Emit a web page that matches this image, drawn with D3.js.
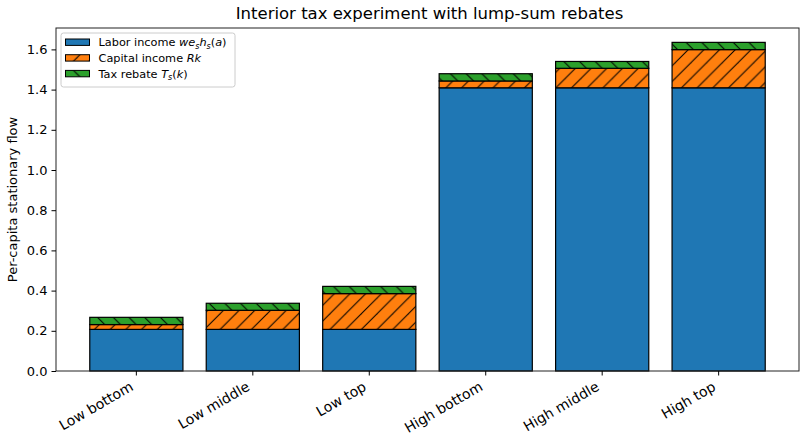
<!DOCTYPE html>
<html>
<head>
<meta charset="utf-8">
<script src="https://cdn.jsdelivr.net/npm/d3@7"></script>
<style>
body { margin: 0; background: #fff; }
text { font-family: "DejaVu Sans", sans-serif; }
</style>
</head>
<body>
<svg id="chart"></svg>
<script>
var width = 806, height = 437
var margin = {top: 28, right: 7, bottom: 66, left: 56}

var groups = ["Low bottom", "Low middle", "Low top", "High bottom", "High middle", "High top"]
var labor = [0.207, 0.207, 0.207, 1.409, 1.409, 1.409]
var capital = [0.024, 0.095, 0.178, 0.034, 0.097, 0.190]
var rebate = [0.036, 0.035, 0.036, 0.036, 0.034, 0.036]
var yTicks = [0.0, 0.2, 0.4, 0.6, 0.8, 1.0, 1.2, 1.4, 1.6]

var series = [
    {key: "labor", values: labor, fill: "#1f77b4", hatch: null},
    {key: "capital", values: capital, fill: "#ff7f0e", hatch: "fwd"},
    {key: "rebate", values: rebate, fill: "#2ca02c", hatch: "back"}
]

var svg = d3.select("#chart")
    .attr("width", width)
    .attr("height", height)

// hatch patterns
var defs = svg.append("defs")
var hs = 15.7
function addPattern(id, fill, dir) {
    var p = defs.append("pattern")
        .attr("id", id)
        .attr("patternUnits", "userSpaceOnUse")
        .attr("width", hs).attr("height", hs)
    p.append("rect").attr("width", hs).attr("height", hs).attr("fill", fill)
    var lines = dir == "fwd"
        ? [[0, hs, hs, 0], [-hs / 2, hs / 2, hs / 2, -hs / 2], [hs / 2, hs * 1.5, hs * 1.5, hs / 2]]
        : [[0, 0, hs, hs], [-hs / 2, hs / 2, hs / 2, hs * 1.5], [hs / 2, -hs / 2, hs * 1.5, hs / 2]]
    lines.forEach(l => {
        p.append("line")
            .attr("x1", l[0]).attr("y1", l[1]).attr("x2", l[2]).attr("y2", l[3])
            .attr("stroke", "#000").attr("stroke-width", 1)
    })
}
addPattern("hatch-capital", "#ff7f0e", "fwd")
addPattern("hatch-rebate", "#2ca02c", "back")
function fillOf(s) {
    return s.hatch ? "url(#hatch-" + s.key + ")" : s.fill
}

var x = d3.scaleBand()
    .domain(groups)
    .range([margin.left, width - margin.right])
    .paddingInner(0.2)
    .paddingOuter(0.29)

var y = d3.scaleLinear()
    .domain([0, 1.7065])
    .range([height - margin.bottom, margin.top])

var g = svg.append("g")

var stacked = groups.map((name, i) => {
    var base = 0
    return series.map(s => {
        var d = {name: name, y0: base, y1: base + s.values[i], s: s}
        base += s.values[i]
        return d
    })
})

stacked.forEach(col => {
    g.selectAll(null)
        .data(col)
        .enter()
        .append("rect")
        .attr("x", d => x(d.name))
        .attr("width", x.bandwidth())
        .attr("y", d => y(d.y1))
        .attr("height", d => y(d.y0) - y(d.y1))
        .attr("fill", d => fillOf(d.s))
        .attr("stroke", "#000")
        .attr("stroke-width", 1.2)
})

// frame
svg.append("rect")
    .attr("x", margin.left).attr("y", margin.top)
    .attr("width", width - margin.left - margin.right)
    .attr("height", height - margin.top - margin.bottom)
    .attr("fill", "none").attr("stroke", "#222").attr("stroke-width", 1)

var yAxis = svg.append("g")
    .attr("transform", "translate(" + margin.left + ",0)")
    .call(d3.axisLeft(y).tickValues(yTicks).tickFormat(d3.format(".1f")).tickSize(4.5).tickPadding(4))
yAxis.select(".domain").remove()
yAxis.selectAll("text").attr("font-size", 13).attr("fill", "#000").style("font-family", "DejaVu Sans")

var xAxis = svg.append("g")
    .attr("transform", "translate(0," + (height - margin.bottom) + ")")
    .call(d3.axisBottom(x).tickSize(4.5))
xAxis.select(".domain").remove()
xAxis.selectAll("text")
    .attr("font-size", 14).attr("fill", "#000").style("font-family", "DejaVu Sans")
    .attr("text-anchor", "end")
    .attr("x", 0).attr("y", 0).attr("dy", 0)
    .attr("transform", "translate(-2,18.5) rotate(-30)")

svg.append("text")
    .attr("x", (margin.left + width - margin.right) / 2 + 2)
    .attr("y", 19)
    .attr("text-anchor", "middle")
    .attr("font-size", 16.5)
    .text("Interior tax experiment with lump-sum rebates")

svg.append("text")
    .attr("transform", "translate(17," + ((margin.top + height - margin.bottom) / 2) + ") rotate(-90)")
    .attr("text-anchor", "middle")
    .attr("font-size", 13)
    .text("Per-capita stationary flow")

// legend
var legend = svg.append("g").attr("transform", "translate(61,33)")
legend.append("rect")
    .attr("width", 174).attr("height", 54).attr("rx", 2.5)
    .attr("fill", "#fff").attr("fill-opacity", 0.8)
    .attr("stroke", "#ccc")

var legendLabels = [
    [["Labor income ", ""], ["we", "i"], ["s", "sub"], ["h", "i"], ["s", "sub"], ["(", ""], ["a", "i"], [")", ""]],
    [["Capital income ", ""], ["Rk", "i"]],
    [["Tax rebate ", ""], ["T", "i"], ["s", "sub"], ["(", ""], ["k", "i"], [")", ""]]
]

series.forEach((s, i) => {
    var row = legend.append("g").attr("transform", "translate(0," + (9.2 + i * 15.7) + ")")
    row.append("rect")
        .attr("x", 4.5).attr("y", -3.2).attr("width", 24).attr("height", 6.4)
        .attr("fill", fillOf(s)).attr("stroke", "#000").attr("stroke-width", 1)
    var t = row.append("text")
        .attr("x", 37.5).attr("y", 4)
        .attr("font-size", 11.3)
    var prevSub = false
    legendLabels[i].forEach(part => {
        var ts = t.append("tspan").text(part[0])
        if (part[1] == "i") ts.attr("font-style", "italic")
        if (part[1] == "sub") ts.attr("font-style", "italic").attr("font-size", 8).attr("dy", 2.5)
        else if (prevSub) ts.attr("dy", -2.5)
        prevSub = (part[1] == "sub")
    })
})
</script>
</body>
</html>
